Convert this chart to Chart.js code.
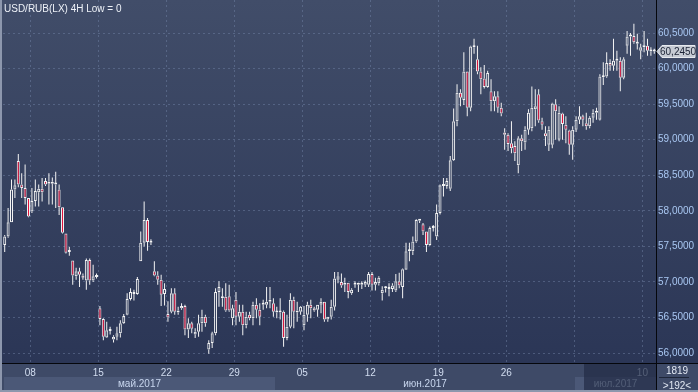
<!DOCTYPE html>
<html>
<head>
<meta charset="utf-8">
<script src="https://cdn.jsdelivr.net/npm/chart.js@4.4.1/dist/chart.umd.min.js"></script>
<style>
  html, body { margin: 0; padding: 0; background: #2c3756; overflow: hidden; }
  canvas { display: block; }
</style>
</head>
<body>
<canvas id="chart" width="698" height="392"></canvas>
<script>
// trading days on screen, 4 candles (4H) per day
const days = ['04.05','05.05',
  '08.05','09.05','10.05','11.05','12.05',
  '15.05','16.05','17.05','18.05','19.05',
  '22.05','23.05','24.05','25.05','26.05',
  '29.05','30.05','31.05','01.06','02.06',
  '05.06','06.06','07.06','08.06','09.06',
  '12.06','13.06','14.06','15.06','16.06',
  '19.06','20.06','21.06','22.06','23.06',
  '26.06','27.06','28.06','29.06','30.06',
  '03.07','04.07','05.07','06.07','07.07',
  '10.07'];

const opens = [
  57.52,57.64,57.84,58.30,58.70,58.37,58.32,58.18,57.99,58.14,58.26,58.31,58.42,58.38,58.41,58.39,
  58.30,58.05,57.68,57.42,57.30,57.08,57.15,57.09,57.02,57.31,57.02,57.07,56.63,56.48,56.22,56.31,
  56.19,56.23,56.28,56.42,56.54,56.76,56.86,56.83,57.29,57.55,57.87,57.57,57.15,57.09,57.03,56.83,
  56.55,56.58,56.84,56.60,56.63,56.66,56.33,56.42,56.26,56.30,56.42,56.51,56.05,56.14,56.28,56.86,
  56.77,56.79,56.80,56.49,56.75,56.51,56.58,56.39,56.54,56.49,56.68,56.61,56.68,56.68,56.75,56.70,
  56.58,56.57,56.58,56.21,56.37,56.75,56.57,56.58,56.39,56.54,56.68,56.63,56.61,56.68,56.72,56.47,
  56.51,56.65,57.03,57.00,56.96,56.99,56.84,56.96,56.96,56.96,56.96,56.96,57.11,56.96,56.98,56.84,
  56.91,56.91,56.90,56.88,57.01,56.93,57.17,57.43,57.43,57.57,57.87,57.81,57.71,57.52,57.76,57.64,
  57.97,58.36,58.35,58.31,58.71,59.26,59.66,59.56,59.96,59.45,60.31,60.13,59.96,59.86,59.74,59.68,
  59.54,59.61,59.45,59.10,59.07,58.95,58.91,58.64,59.02,58.96,59.14,59.16,59.43,59.64,59.26,59.09,
  58.93,58.93,59.50,59.00,59.37,59.21,59.13,58.93,59.14,59.28,59.33,59.23,59.19,59.31,59.38,59.28,
  59.88,59.89,60.08,60.04,60.11,60.11,59.87,60.32,60.45,60.46,60.37,60.25,60.30,60.32,60.25,60.24];

const highs = [
  57.66,58.04,58.44,58.44,58.80,58.53,58.65,58.18,58.32,58.44,58.37,58.46,58.46,58.53,58.47,58.55,
  58.37,58.05,57.68,57.49,57.30,57.20,57.20,57.12,57.33,57.33,57.24,57.12,56.66,56.49,56.44,56.37,
  56.25,56.37,56.46,56.55,56.84,56.91,56.89,57.07,57.71,58.13,57.90,57.60,57.29,57.15,57.10,56.98,
  56.73,56.91,56.91,56.65,56.70,56.68,56.49,56.44,56.35,56.54,56.61,56.54,56.18,56.30,56.91,57.01,
  56.91,56.98,56.96,56.68,56.86,56.68,56.68,56.58,56.58,56.72,56.77,56.70,56.75,56.93,56.93,56.77,
  56.65,56.77,56.60,56.54,56.84,56.79,56.72,56.66,56.66,56.72,56.75,56.65,56.68,56.77,56.72,56.51,
  56.75,57.14,57.14,57.12,57.06,56.99,56.91,57.01,56.99,57.01,57.02,57.14,57.14,57.06,57.08,56.94,
  56.94,56.98,56.98,57.11,57.13,57.19,57.55,57.55,57.64,57.88,57.88,57.83,57.71,57.78,57.80,58.09,
  58.37,58.46,58.46,58.77,59.44,59.78,59.71,60.23,59.96,60.32,60.42,60.32,60.02,60.05,59.97,59.85,
  59.68,59.68,59.52,59.16,59.09,59.26,58.98,59.05,59.07,59.19,59.43,59.75,59.71,59.71,59.31,59.19,
  59.19,59.52,59.57,59.47,59.38,59.33,59.14,59.19,59.33,59.47,59.35,59.38,59.33,59.43,59.45,59.92,
  60.09,60.23,60.13,60.42,60.25,60.16,60.16,60.53,60.50,60.63,60.49,60.35,60.53,60.42,60.30,60.28];

const lows = [
  57.42,57.62,57.84,58.18,58.33,58.18,58.09,57.91,57.97,58.06,58.06,58.13,58.35,58.09,58.09,58.04,
  57.94,57.68,57.40,57.37,56.96,57.03,56.93,57.03,56.89,56.96,57.00,57.05,56.39,56.18,56.21,56.26,
  56.15,56.18,56.22,56.41,56.53,56.74,56.74,56.82,57.29,57.50,57.44,57.52,57.08,56.96,56.66,56.67,
  56.44,56.56,56.54,56.54,56.61,56.25,56.21,56.28,56.21,56.23,56.30,56.37,55.99,56.07,56.25,56.65,
  56.65,56.58,56.58,56.39,56.39,56.44,56.25,56.35,56.46,56.39,56.49,56.39,56.61,56.63,56.63,56.51,
  56.49,56.47,56.09,56.18,56.35,56.35,56.44,56.54,56.32,56.44,56.49,56.58,56.51,56.56,56.44,56.44,
  56.47,56.60,56.98,56.92,56.86,56.77,56.82,56.92,56.86,56.90,56.93,56.93,56.88,56.88,56.95,56.74,
  56.85,56.80,56.86,56.86,56.91,56.77,57.17,57.29,57.38,57.55,57.83,57.66,57.42,57.51,57.71,57.59,
  57.95,58.20,58.31,58.28,58.70,59.19,59.47,59.49,59.33,59.40,60.21,59.92,59.64,59.72,59.73,59.40,
  59.40,59.38,59.33,58.86,58.84,58.81,58.70,58.53,58.84,58.86,59.07,59.12,59.19,59.24,59.14,58.91,
  58.84,58.88,59.00,58.98,59.00,58.95,58.79,58.72,59.11,59.22,59.19,59.14,59.16,59.24,59.28,59.27,
  59.77,59.87,59.97,59.97,59.97,59.68,59.85,60.21,60.18,60.35,60.27,60.13,60.23,60.18,60.18,60.21];

const closes = [
  57.64,57.84,58.30,58.36,58.37,58.32,58.18,57.92,58.14,58.28,58.31,58.26,58.37,58.41,58.38,58.37,
  58.05,57.69,57.41,57.44,57.09,57.15,57.10,57.06,57.31,57.02,57.08,57.08,56.48,56.23,56.32,56.32,
  56.23,56.28,56.42,56.52,56.76,56.86,56.83,57.04,57.55,57.87,57.56,57.55,57.09,57.03,56.82,56.90,
  56.50,56.84,56.58,56.57,56.66,56.33,56.42,56.34,56.30,56.42,56.51,56.42,56.14,56.28,56.86,56.93,
  56.79,56.60,56.60,56.63,56.51,56.58,56.39,56.51,56.49,56.68,56.61,56.51,56.70,56.72,56.72,56.58,
  56.57,56.58,56.21,56.37,56.75,56.58,56.60,56.65,56.54,56.68,56.63,56.60,56.68,56.72,56.47,56.51,
  56.65,57.05,57.08,56.95,56.99,56.86,56.89,56.98,56.97,56.97,57.00,57.11,56.96,57.00,57.06,56.89,
  56.92,56.90,56.95,57.01,56.95,57.18,57.43,57.44,57.57,57.87,57.86,57.71,57.52,57.76,57.78,57.97,
  58.36,58.35,58.42,58.71,59.26,59.66,59.59,59.96,59.45,60.31,60.30,59.96,59.85,59.74,59.94,59.54,
  59.61,59.45,59.37,59.07,58.94,58.88,58.81,59.02,58.98,59.14,59.38,59.45,59.47,59.27,59.21,59.05,
  59.14,59.51,59.40,59.38,59.22,59.14,58.93,59.14,59.28,59.33,59.28,59.19,59.31,59.38,59.40,59.89,
  59.89,60.08,60.04,60.11,60.12,59.87,60.13,60.45,60.46,60.37,60.35,60.30,60.32,60.25,60.24,60.245];

const yTicks = [56.0, 56.5, 57.0, 57.5, 58.0, 58.5, 59.0, 59.5, 60.0, 60.5];
const weekStarts = ['08.05','15.05','22.05','29.05','05.06','12.06','19.06','26.06','03.07','10.07'];
const unlabeledWeeks = ['03.07'];
const monthNames = ['май.2017', 'июн.2017', 'июл.2017'];
const monthStarts = ['04.05', '01.06', '03.07'];
const titleText = 'USD/RUB(LX) 4H Low = 0';
const totalBars = '1819';

const labels = closes.map((c, i) => days[Math.floor(i / 4)] + ' ' + (i % 4));
const bodyTop = opens.map((o, i) => Math.max(o, closes[i]));
const bodyBot = opens.map((o, i) => Math.min(o, closes[i]));

const FONT = 'Liberation Sans, Arial, sans-serif';
const gridCol = 'rgba(118,136,170,0.45)';
const candleCol = '#f4f4f4';
const fmt = v => v.toFixed(4).replace('.', ',');
const isWeekLine = i => labels[i] && labels[i].endsWith(' 0') && weekStarts.includes(labels[i].slice(0, 5));

const decor = {
  id: 'decor',
  beforeDraw(chart) {
    const { ctx, chartArea: a, scales: { x } } = chart;
    const W = chart.width, H = chart.height;
    const g = ctx.createLinearGradient(0, 0, 0, a.bottom);
    g.addColorStop(0, '#414d69');
    g.addColorStop(1, '#2b3656');
    ctx.save();
    ctx.fillStyle = g;
    ctx.fillRect(0, 0, W, a.bottom);
    ctx.fillStyle = '#3e4a67';
    ctx.fillRect(0, a.bottom, W, H - a.bottom);
    // month boxes
    const half = (x.getPixelForValue(1) - x.getPixelForValue(0)) / 2;
    monthStarts.forEach((m, k) => {
      const s = labels.findIndex(l => l.startsWith(m));
      const e = k + 1 < monthStarts.length ? labels.findIndex(l => l.startsWith(monthStarts[k + 1])) : labels.length;
      const l = Math.round(x.getPixelForValue(s) - half) + 1;
      const r = Math.min(Math.round(x.getPixelForValue(e - 1) + half), a.right);
      if (k % 2 === 0) {
        ctx.fillStyle = '#4b5877';
        ctx.fillRect(l, 377, r - l, 13);
      }
      ctx.fillStyle = '#c8d6ee';
      ctx.font = '10px ' + FONT;
      ctx.textAlign = 'center';
      ctx.textBaseline = 'middle';
      ctx.fillText(monthNames[k], (l + r) / 2, 384);
    });
    ctx.restore();
  },
  afterDraw(chart) {
    const { ctx, chartArea: a, scales: { y } } = chart;
    const W = chart.width, H = chart.height;
    ctx.save();
    // dimmed region at the right end of the time band
    ctx.fillStyle = 'rgba(34,44,70,0.72)';
    ctx.fillRect(584, a.bottom + 1, a.right - 584, 26);
    // axis lines
    ctx.fillStyle = '#05070c';
    ctx.fillRect(0, a.bottom, W, 1);
    ctx.fillRect(a.right, 0, 1, H - 2);
    // frame
    ctx.fillStyle = '#8d97ad';
    ctx.fillRect(0, 0, 2, H);
    ctx.fillRect(0, H - 2, W, 2);
    // title
    ctx.fillStyle = '#eef2f8';
    ctx.font = '10px ' + FONT;
    ctx.textAlign = 'left';
    ctx.textBaseline = 'alphabetic';
    ctx.fillText(titleText, 4, 12);
    // last price tag
    const last = closes[closes.length - 1];
    const py = Math.round(y.getPixelForValue(last)) + 0.5;
    ctx.beginPath();
    ctx.moveTo(a.right + 1, py);
    ctx.lineTo(a.right + 6, py - 6);
    ctx.lineTo(W - 3, py - 6);
    ctx.lineTo(W - 3, py + 6);
    ctx.lineTo(a.right + 6, py + 6);
    ctx.closePath();
    ctx.fillStyle = '#c6cbd4';
    ctx.fill();
    ctx.strokeStyle = '#e6e9ee';
    ctx.lineWidth = 1;
    ctx.stroke();
    ctx.fillStyle = '#1a2234';
    ctx.textBaseline = 'middle';
    ctx.fillText(fmt(last), a.right + 4, py + 0.5);
    // corner counters
    const cx = (a.right + W) / 2;
    ctx.textAlign = 'center';
    ctx.fillStyle = '#e2e8f3';
    ctx.fillText(totalBars, cx, 371);
    ctx.fillText('>' + closes.length + '<', cx, 386);
    ctx.fillStyle = '#1e2639';
    ctx.fillRect(a.right + 3, 377, 30, 1);
    ctx.restore();
  }
};

new Chart(document.getElementById('chart'), {
  type: 'bar',
  data: {
    labels: labels,
    datasets: [
      {
        data: opens.map((o, i) => [o, closes[i]]),
        backgroundColor: opens.map((o, i) => closes[i] < o ? '#e3123c' : 'rgba(0,0,0,0)'),
        borderColor: candleCol, borderWidth: 1, borderSkipped: false,
        barThickness: 3, minBarLength: 2, inflateAmount: 0, grouped: false
      },
      {
        data: highs.map((h, i) => [bodyTop[i], h]),
        backgroundColor: candleCol, borderWidth: 0,
        barThickness: 1, inflateAmount: 0, grouped: false
      },
      {
        data: lows.map((l, i) => [l, bodyBot[i]]),
        backgroundColor: candleCol, borderWidth: 0,
        barThickness: 1, inflateAmount: 0, grouped: false
      }
    ]
  },
  options: {
    responsive: false,
    animation: false,
    events: [],
    layout: { padding: { left: 3, top: 0, right: 0, bottom: 0 } },
    plugins: { legend: { display: false }, tooltip: { enabled: false } },
    scales: {
      x: {
        offset: true,
        grid: {
          offset: true, drawTicks: false,
          color: c => isWeekLine(c.index) ? gridCol : 'rgba(0,0,0,0)'
        },
        border: { display: false, dash: [2, 3] },
        ticks: {
          autoSkip: false, maxRotation: 0, minRotation: 0, padding: 4, labelOffset: -1.7,
          color: '#d2ddf0', font: { family: FONT, size: 10 },
          callback: (v, i) => isWeekLine(i) && !unlabeledWeeks.includes(labels[i].slice(0, 5)) ? labels[i].slice(0, 2) : ''
        },
        afterFit: s => { s.height = 29; s.paddingLeft = 0; s.paddingRight = 0; }
      },
      y: {
        position: 'right',
        min: 55.86, max: 60.965,
        afterBuildTicks: s => { s.ticks = yTicks.map(v => ({ value: v })); },
        grid: { color: gridCol, drawTicks: false },
        border: { display: false, dash: [2, 3] },
        ticks: {
          padding: 2, color: '#a9c7f2', font: { family: FONT, size: 10 },
          callback: v => fmt(v)
        },
        afterFit: s => { s.width = 42; s.paddingTop = 0; s.paddingBottom = 0; }
      }
    }
  },
  plugins: [decor]
});
</script>
</body>
</html>
